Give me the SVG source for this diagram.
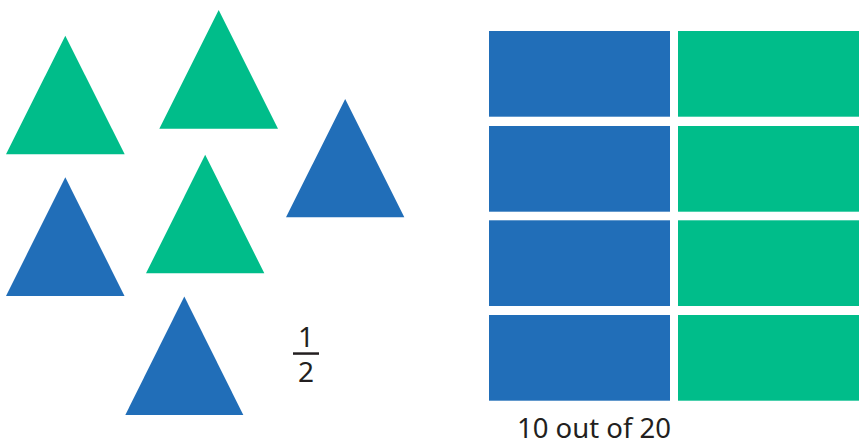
<svg xmlns="http://www.w3.org/2000/svg" width="859" height="444" viewBox="0 0 859 444">
<style>
.b{fill:#216eb8}
.g{fill:#00bd8a}
.t{font-family:"Noto Sans","Open Sans",sans-serif;fill:#231f20}
</style>
<rect width="859" height="444" fill="#fff"/>
<g id="triangles">
<polygon id="tri1" class="g" points="65.3,35.7 124.7,154.3 6,154.3"/>
<polygon id="tri2" class="g" points="218.7,10 278,128.7 159.3,128.7"/>
<polygon id="tri3" class="b" points="345.2,99 404.3,217.3 286,217.3"/>
<polygon id="tri4" class="b" points="65.3,177.3 124.5,296 6,296"/>
<polygon id="tri5" class="g" points="205.2,154.7 264.3,273.3 146,273.3"/>
<polygon id="tri6" class="b" points="184.3,296.5 243.3,415 125.3,415"/>
</g>
<g id="fraction">
<text class="t" x="306" y="347" font-size="28" text-anchor="middle">1</text>
<rect x="293" y="352.3" width="26" height="2.5" fill="#231f20"/>
<text class="t" x="306" y="382" font-size="28" text-anchor="middle">2</text>
</g>
<g id="grid">
<rect class="b" x="489" y="31" width="181" height="85.7"/>
<rect class="g" x="678" y="31" width="181" height="85.7"/>
<rect class="b" x="489" y="126" width="181" height="85.7"/>
<rect class="g" x="678" y="126" width="181" height="85.7"/>
<rect class="b" x="489" y="220.3" width="181" height="85.7"/>
<rect class="g" x="678" y="220.3" width="181" height="85.7"/>
<rect class="b" x="489" y="315" width="181" height="85.7"/>
<rect class="g" x="678" y="315" width="181" height="85.7"/>
</g>
<text id="caption" class="t" x="517" y="437.5" font-size="27.5">10 out of 20</text>
</svg>
